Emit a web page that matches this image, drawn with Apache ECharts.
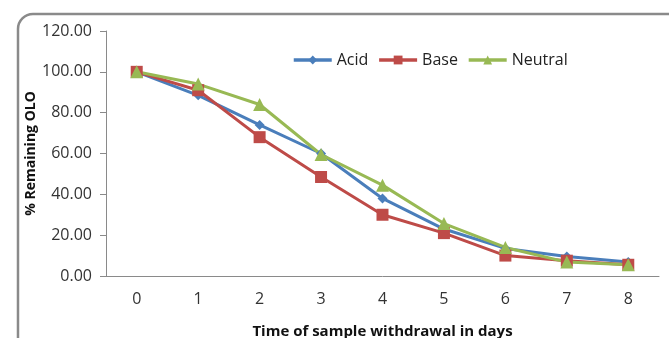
<!DOCTYPE html>
<html>
<head>
<meta charset="utf-8">
<script src="https://cdn.jsdelivr.net/npm/echarts@6/dist/echarts.min.js"></script>
<style>
  html, body { margin: 0; padding: 0; background: #fff; }
  #chart { width: 669px; height: 338px; }
</style>
</head>
<body>
<div id="chart"></div>
<script>
// days on the x axis
const days = ['0', '1', '2', '3', '4', '5', '6', '7', '8'];
// % remaining OLO
const acid = [100, 88.5, 74, 60, 38, 23, 13.5, 9.5, 6.8];
const base = [100, 91, 68, 48.5, 30, 21, 10, 7.5, 5.5];
const neutral = [100, 94, 84, 59.5, 44.5, 25.7, 14, 6.8, 5.5];

const chart = echarts.init(document.getElementById('chart'));
const font = '"Open Sans", sans-serif';

chart.setOption({
  backgroundColor: '#fff',
  animation: false,
  graphic: [{
    type: 'rect',
    shape: { x: 18, y: 14, width: 700, height: 360, r: 15 },
    style: { fill: 'none', stroke: '#8a8a8a', lineWidth: 2.5 },
    silent: true
  }],
  grid: { left: 106, right: 10, top: 31, bottom: 62, outerBoundsMode: 'none' },
  legend: {
    top: 47,
    left: 287,
    itemWidth: 38,
    itemHeight: 11,
    itemGap: 9,
    lineStyle: { width: 3.5 },
    textStyle: { fontFamily: font, fontSize: 16, color: '#222' },
    data: ['Acid', 'Base', 'Neutral']
  },
  xAxis: {
    type: 'category',
    data: days,
    name: 'Time of sample withdrawal in days',
    nameLocation: 'middle',
    nameGap: 48,
    nameMoveOverlap: false,
    nameTextStyle: { fontFamily: font, fontSize: 15, fontWeight: 'bold', color: '#111' },
    axisLine: { lineStyle: { color: '#8a8a8a' } },
    axisTick: { length: 6, lineStyle: { color: '#8a8a8a' } },
    axisLabel: { fontFamily: font, fontSize: 16, color: '#333', margin: 15 }
  },
  yAxis: {
    type: 'value',
    min: 0,
    max: 120,
    interval: 20,
    name: '% Remaining OLO',
    nameLocation: 'middle',
    nameGap: 68,
    nameMoveOverlap: false,
    nameTextStyle: { fontFamily: font, fontSize: 14, fontWeight: 'bold', color: '#111' },
    axisLine: { show: true, lineStyle: { color: '#8a8a8a' } },
    axisTick: { show: true, length: 6, lineStyle: { color: '#8a8a8a' } },
    splitLine: { show: false },
    axisLabel: {
      fontFamily: font, fontSize: 16, color: '#333', margin: 14,
      formatter: v => v.toFixed(2)
    }
  },
  series: [
    {
      name: 'Acid', type: 'line', data: acid,
      symbol: 'diamond', symbolSize: 10,
      lineStyle: { width: 3, color: '#4a7ebb' },
      itemStyle: { color: '#4a7ebb' }
    },
    {
      name: 'Base', type: 'line', data: base,
      symbol: 'rect', symbolSize: 12,
      lineStyle: { width: 3, color: '#be4b48' },
      itemStyle: { color: '#be4b48' }
    },
    {
      name: 'Neutral', type: 'line', data: neutral,
      symbol: 'triangle', symbolSize: 13,
      lineStyle: { width: 3, color: '#98b954' },
      itemStyle: { color: '#98b954' }
    }
  ]
});
</script>
</body>
</html>
